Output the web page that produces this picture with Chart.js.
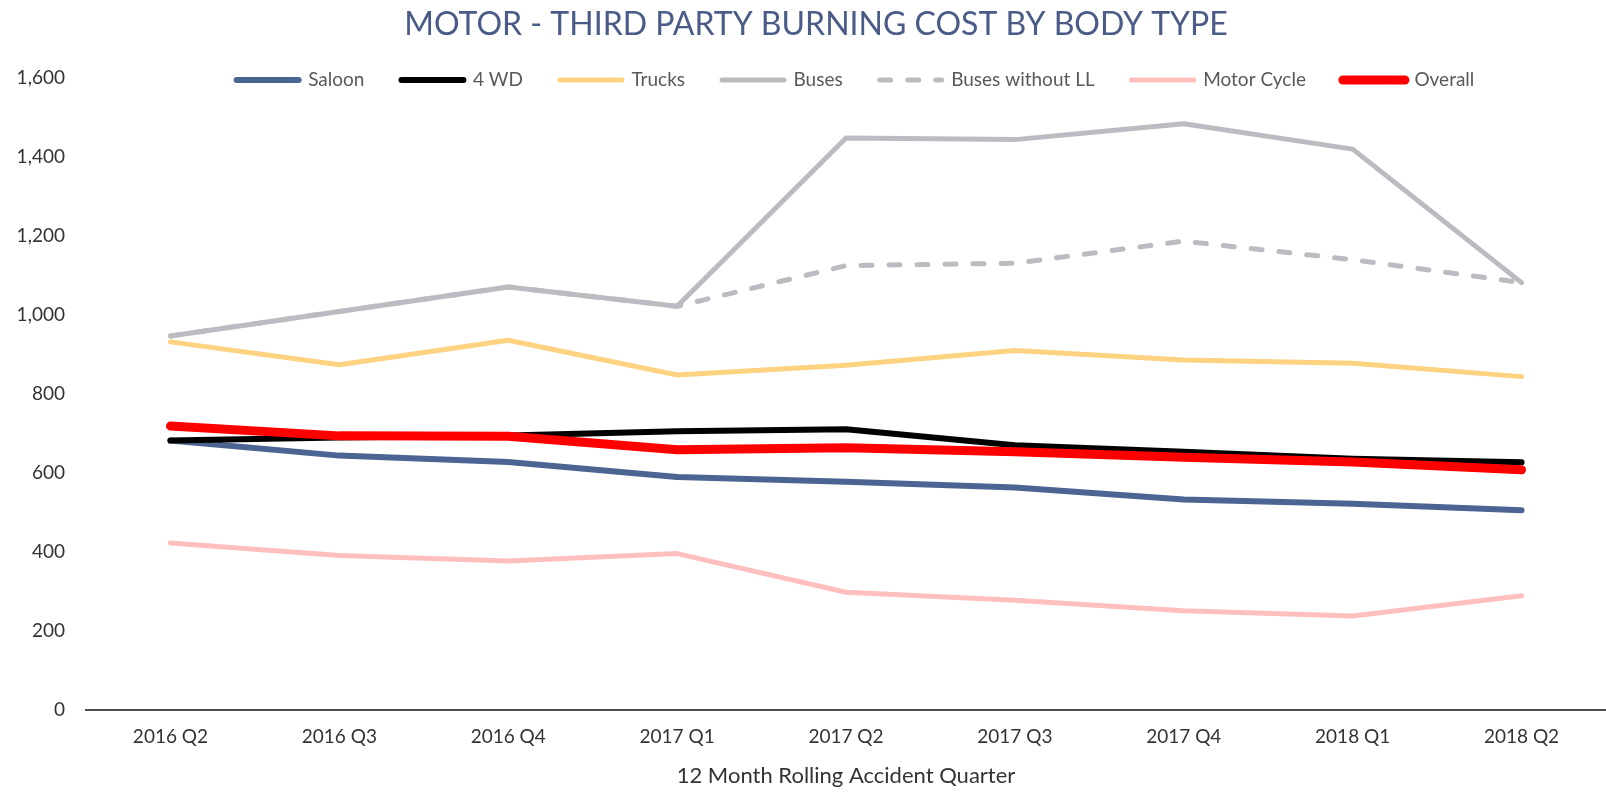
<!DOCTYPE html>
<html>
<head>
<meta charset="utf-8">
<script src="https://cdn.jsdelivr.net/npm/chart.js@4/dist/chart.umd.min.js"></script>
<style>
  html, body { margin: 0; padding: 0; background: #fff; }
  #wrap { width: 1606px; height: 792px; position: relative; }
</style>
</head>
<body>
<div id="wrap"><canvas id="chart"></canvas></div>
<script>
// Quarters on the x axis
const quarters = ["2016 Q2", "2016 Q3", "2016 Q4", "2017 Q1", "2017 Q2", "2017 Q3", "2017 Q4", "2018 Q1", "2018 Q2"];

// Burning cost per body type
const saloon = [682, 644, 628, 590, 578, 563, 533, 522, 506];
const fourWd = [682, 690, 695, 706, 711, 670, 654, 636, 627];
const trucks = [932, 874, 936, 848, 873, 910, 886, 878, 844];
const buses = [947, 1009, 1071, 1022, 1448, 1444, 1484, 1420, 1082];
const busesNoLL = [947, 1009, 1071, 1022, 1125, 1131, 1187, 1140, 1082];
const motorCycle = [423, 391, 377, 396, 298, 278, 251, 238, 289];
const overall = [719, 694, 693, 659, 664, 654, 640, 628, 608];

const yTicks = [0, 200, 400, 600, 800, 1000, 1200, 1400, 1600];

const FONT = "Lato, 'Open Sans', sans-serif";
const LEGEND_PAD = 37;

function series(label, data, color, width, order, dash) {
  return {
    label: label,
    data: data,
    borderColor: color,
    backgroundColor: color,
    borderWidth: width,
    borderDash: dash || [],
    borderCapStyle: "round",
    borderJoinStyle: "round",
    pointRadius: 0,
    pointHoverRadius: 0,
    tension: 0,
    fill: false,
    order: order,
  };
}

// move the legend so it sits level with the top tick, like the original,
// and nudge the title a little to the right
const placeBoxes = {
  id: "placeBoxes",
  afterLayout(chart) {
    const lg = chart.legend;
    if (lg) {
      const top = 80 - LEGEND_PAD - 9.5;
      lg.top = top;
      lg.bottom = top + 80;
      lg.left = chart.chartArea.left + 19;
      lg.right = chart.chartArea.right;
    }
    const tt = chart.titleBlock;
    if (tt) {
      tt.left += 13;
      tt.right += 13;
    }
  },
};

// the point style carries no dash, so take dash and caps from the dataset
function legendLabels(chart) {
  const items = Chart.defaults.plugins.legend.labels.generateLabels(chart);
  items.forEach((it) => {
    const ds = chart.data.datasets[it.datasetIndex];
    it.lineDash = ds.borderDash || [];
    it.lineCap = "round";
    it.lineWidth = ds.borderWidth;
  });
  return items;
}

const ctx = document.getElementById("chart").getContext("2d");
new Chart(ctx, {
  type: "line",
  data: {
    labels: quarters,
    datasets: [
      series("Saloon", saloon, "#4b6491", 6, 6),
      series("4 WD", fourWd, "#000000", 6, 5),
      series("Trucks", trucks, "#fdd281", 5, 4),
      series("Buses", buses, "#bdbbc1", 5, 3),
      series("Buses without LL", busesNoLL, "#bdbbc1", 5, 2, [11, 17]),
      series("Motor Cycle", motorCycle, "#ffbfbf", 5, 1),
      series("Overall", overall, "#ff0000", 9, 0),
    ],
  },
  plugins: [placeBoxes],
  options: {
    responsive: true,
    maintainAspectRatio: false,
    animation: false,
    layout: { padding: 0 },
    plugins: {
      title: {
        display: true,
        text: "MOTOR - THIRD PARTY BURNING COST BY BODY TYPE",
        color: "#4b5b87",
        font: { family: FONT, size: 32, weight: "normal" },
        padding: { top: 5, bottom: 0 },
      },
      legend: {
        display: true,
        position: "top",
        maxHeight: 34.6,
        labels: {
          usePointStyle: true,
          pointStyle: "line",
          pointStyleWidth: 62,
          boxHeight: 6,
          padding: LEGEND_PAD,
          color: "#595959",
          font: { family: FONT, size: 19 },
          sort: (a, b) => a.datasetIndex - b.datasetIndex,
          generateLabels: legendLabels,
        },
      },
      tooltip: { enabled: false },
    },
    scales: {
      x: {
        offset: true,
        grid: { display: false, drawTicks: false },
        border: { display: true, color: "#4d4d4d", width: 2 },
        ticks: {
          color: "#333333",
          font: { family: FONT, size: 19 },
          padding: 15,
          maxRotation: 0,
        },
        title: {
          display: true,
          text: "12 Month Rolling Accident Quarter",
          color: "#333333",
          font: { family: FONT, size: 22 },
          padding: { top: 0, bottom: 3 },
        },
        afterFit: (s) => { s.height = 82; },
      },
      y: {
        min: 0,
        max: 1600,
        grid: { display: false, drawTicks: false },
        border: { display: false },
        afterBuildTicks: (s) => { s.ticks = yTicks.map((v) => ({ value: v })); },
        ticks: {
          color: "#333333",
          font: { family: FONT, size: 19 },
          padding: 21,
        },
        afterFit: (s) => { s.width = 86; },
      },
    },
  },
});
</script>
</body>
</html>
